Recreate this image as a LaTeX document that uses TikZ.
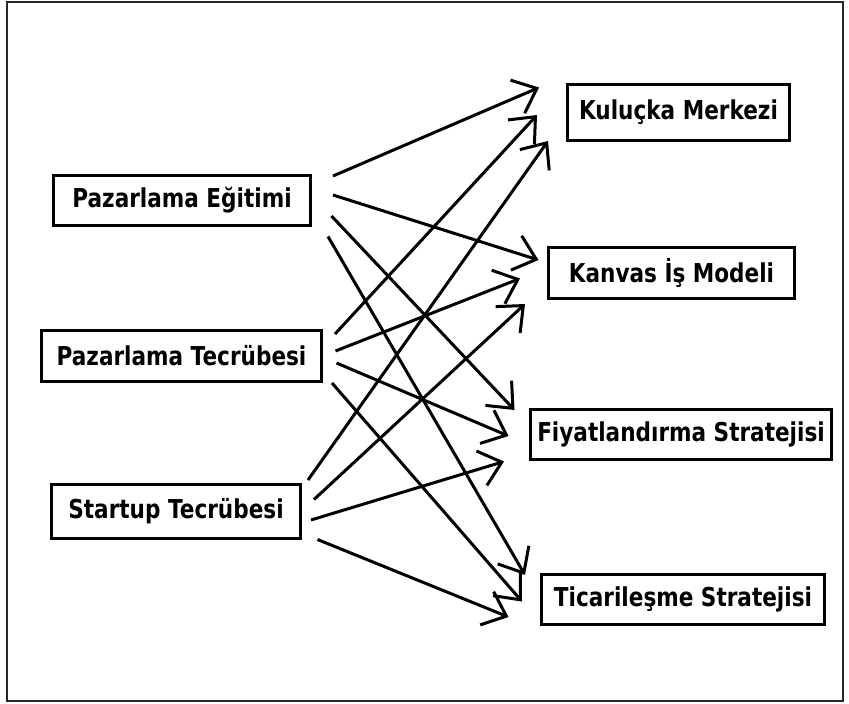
\documentclass[tikz,border=0pt]{standalone}
\usepackage{fontspec}
\newfontfamily\boxfont{DejaVu Sans}[FakeStretch=0.83]
\usetikzlibrary{arrows.meta}

\begin{document}
\begin{tikzpicture}[x=1pt, y=-1pt,
  box/.style={draw, line width=3pt, inner sep=0pt,
    font=\boxfont\bfseries\fontsize{26}{30}\selectfont},
  arr/.style={line width=3pt, -{Straight Barb[length=21pt, width=36pt]}}]
  \useasboundingbox (0,0) rectangle (849,704);

  % Outer frame
  \draw[line width=2pt, black!85] (7,1.5) rectangle (843,701);

  % Factors (left)
  \node[box, minimum width=257pt, minimum height=50pt] (pe) at (182,200.5) {Pazarlama Eğitimi};
  \node[box, minimum width=280pt, minimum height=51pt] (pt) at (181.5,356) {Pazarlama Tecrübesi};
  \node[box, minimum width=249pt, minimum height=54pt] (st) at (176,511.5) {Startup Tecrübesi};

  % Outcomes (right)
  \node[box, minimum width=222pt, minimum height=56pt] (km) at (678.5,112.5) {Kuluçka Merkezi};
  \node[box, minimum width=246pt, minimum height=51pt] (ki) at (671.5,273) {Kanvas İş Modeli};
  \node[box, minimum width=301pt, minimum height=50pt] (fs) at (681,434.5) {Fiyatlandırma Stratejisi};
  \node[box, minimum width=283pt, minimum height=50pt] (ts) at (683,599.5) {Ticarileşme Stratejisi};

  % Every factor points to every outcome
  \foreach \src/\sx/\sy/\dst/\dx/\dy in {
      pe/21/-24.5/km/-27/-25, pe/21/-5.5/ki/-8.5/-13,
      pe/19.5/15.5/fs/-14.5/-24.5, pe/16/36/ts/-15/-24.5,
      pt/12/-22/km/-29/2.5, pt/12.5/-5/ki/-27/5.5,
      pt/13.5/7/fs/-20.5/1.5, pt/9/27/ts/-18/2,
      st/6/-31.5/km/-18/28.5, st/12/-12/ki/-22/31,
      st/9/8.5/fs/-25/27, st/15.5/28/ts/-31.5/17.5} {
    \draw[arr] ([shift={(\sx,\sy)}]\src.east) -- ([shift={(\dx,\dy)}]\dst.west);
  }
\end{tikzpicture}
\end{document}
